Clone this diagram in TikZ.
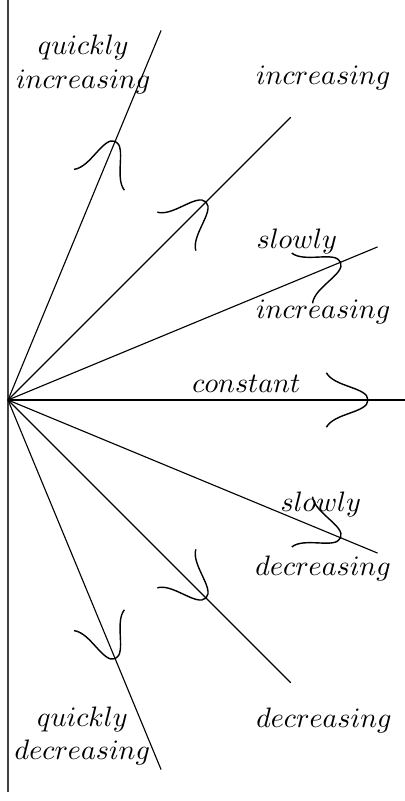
\documentclass[tikz,border=0pt]{standalone}
\usetikzlibrary{positioning}
\tikzset{
  ray/.style={line width=0.4pt},
  bump/.style={line width=0.5pt},
  rate/.style={inner sep=1pt}
}

\begin{document}
\begin{tikzpicture}
  \useasboundingbox (-0.1,-5.0125) rectangle (4.9625,5.0);
  % axis
  \coordinate (o) at (0,0);
  \coordinate (top) at (0,5);
  \coordinate (bot) at (0,-4.9);
  \draw[black!75, line width=0.5pt] (top) -- (bot);
  % rays and bumps (angle / position of bump)
  \foreach \a/\d [count=\i] in {67.5/3.5, 45/3.5, 22.5/4.5, 0/4.5, -22.5/4.5, -45/3.5, -67.5/3.5} {
    \coordinate (e\i) at (\a:5);
    \draw[ray] (o) -- (e\i);
    \draw[bump, shift={(\a:\d)}, rotate=\a] (-0.52,0.34) .. controls (-0.42,0.16) and (0,0.16) .. (0,0)
      .. controls (0,-0.16) and (-0.42,-0.16) .. (-0.52,-0.34);
  }
  % labels
  \node[rate, align=center] (qinc) at (0.94,4.19) {$quickly$\\$increasing$};
  \node[rate] (inc) at (3.94,4.03) {$increasing$};
  \node[rate] (sinc1) at (3.61,1.98) {$slowly$};
  \node[rate] (sinc2) at (3.94,1.1) {$increasing$};
  \node[rate] (const) at (2.98,0.2) {$constant$};
  \node[rate] (sdec1) at (3.91,-1.31) {$slowly$};
  \node[rate] (sdec2) at (3.94,-2.1) {$decreasing$};
  \node[rate] (dec) at (3.95,-4.0) {$decreasing$};
  \node[rate, align=center] (qdec) at (0.93,-4.2) {$quickly$\\$decreasing$};
\end{tikzpicture}
\end{document}
